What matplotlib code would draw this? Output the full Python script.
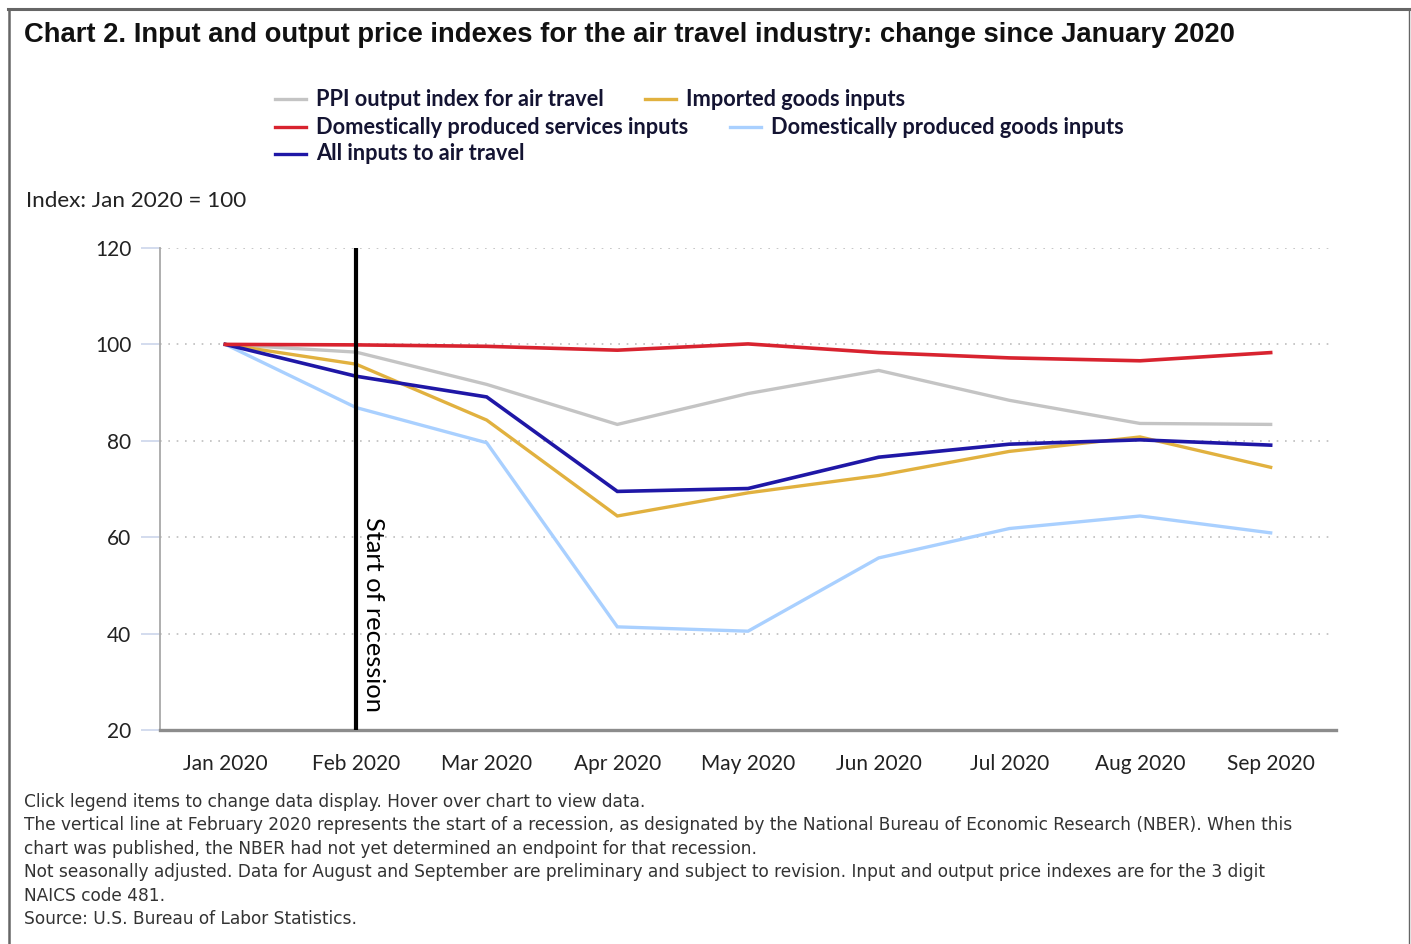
import matplotlib
matplotlib.use('Agg')
import matplotlib.pyplot as plt
from matplotlib.lines import Line2D
import numpy as np

months = ['Jan 2020', 'Feb 2020', 'Mar 2020', 'Apr 2020', 'May 2020',
          'Jun 2020', 'Jul 2020', 'Aug 2020', 'Sep 2020']

ppi_output = [100, 98.4, 91.7, 83.4, 89.8, 94.6, 88.4, 83.6, 83.4]
imported_goods = [100, 95.9, 84.3, 64.4, 69.2, 72.8, 77.8, 80.8, 74.5]
dom_services = [100, 99.9, 99.6, 98.8, 100.1, 98.3, 97.2, 96.6, 98.3]
dom_goods = [100, 86.9, 79.6, 41.4, 40.5, 55.7, 61.8, 64.4, 60.9]
all_inputs = [100, 93.4, 89.1, 69.5, 70.1, 76.6, 79.3, 80.2, 79.1]

series = [
    ('PPI output index for air travel', ppi_output, '#c4c4c4'),
    ('Imported goods inputs', imported_goods, '#e1b13f'),
    ('Domestically produced services inputs', dom_services, '#d8232f'),
    ('Domestically produced goods inputs', dom_goods, '#a9d0ff'),
    ('All inputs to air travel', all_inputs, '#1f17a6'),
]
# draw order: light ones first
draw_order = [3, 0, 1, 4, 2]

yticks = [20, 40, 60, 80, 100, 120]

W, H = 1411, 944
fig = plt.figure(figsize=(W / 100, H / 100), dpi=100)
ui = ['Lato', 'DejaVu Sans']

# outer frame
fig.add_artist(Line2D([8 / W, 1409 / W], [1 - 9 / H, 1 - 9 / H], color='#666666', lw=2.2))
fig.add_artist(Line2D([9 / W, 9 / W], [0, 1 - 9 / H], color='#666666', lw=1.8))
fig.add_artist(Line2D([1409 / W, 1409 / W], [0, 1 - 9 / H], color='#666666', lw=1.0))

fig.text(24 / W, 1 - 35 / H, 'Chart 2. Input and output price indexes for the air travel industry: change since January 2020',
         family='Liberation Sans', weight='bold', fontsize=19.75, color='#111111', va='center', ha='left')

ax = fig.add_axes([160 / W, 1 - 730 / H, (1336 - 160) / W, (730 - 248) / H])
x = np.arange(len(months))
for i in draw_order:
    name, vals, col = series[i]
    ax.plot(x, vals, color=col, lw=2.6 if i in (2, 4) else 2.4, solid_joinstyle='miter', zorder=3)

ax.axvline(1, color='black', lw=3, zorder=4)
ax.text(1.045, 23.8, 'Start of recession', rotation=270, ha='left', va='bottom',
        family=ui, fontsize=18.3, color='black', zorder=5)

ax.set_xlim(-0.5, 8.5)
ax.set_ylim(20, 120)
ax.set_xticks(x)
ax.set_xticklabels(months, family=ui, fontsize=15, color='#222222')
ax.set_yticks(yticks)
ax.set_yticklabels([str(v) for v in yticks], family=ui, fontsize=15, color='#222222')
for lbl in ax.get_yticklabels():
    lbl.set_va('center_baseline')
ax.tick_params(axis='x', length=0, pad=17)
ax.tick_params(axis='y', length=13.7, color='#ccd6eb', width=1.2, pad=7)
for v in yticks[1:]:
    ax.axhline(v, xmin=0, xmax=0.995, color='#bdbdbd', lw=1.2, ls=(0, (1, 4)), zorder=1)
for s in ['top', 'right']:
    ax.spines[s].set_visible(False)
ax.spines['left'].set_color('#a8a8a8')
ax.spines['left'].set_linewidth(1.3)
ax.spines['bottom'].set_color('#8c8c8c')
ax.spines['bottom'].set_linewidth(2.4)

# legend (flow layout)
legend_rows = [
    [(0, 275, 99), (1, 645, 99)],
    [(2, 275, 127), (3, 730, 127)],
    [(4, 275, 154)],
]
for row in legend_rows:
    for i, lx, ly in row:
        name, vals, col = series[i]
        fig.add_artist(Line2D([lx / W, (lx + 31) / W], [1 - ly / H, 1 - ly / H], color=col, lw=2.4))
        fig.text((lx + 41) / W, 1 - ly / H, name, family=ui, weight='bold', fontsize=15.7,
                 color='#141432', va='center', ha='left')

fig.text(26 / W, 1 - 201 / H, 'Index: Jan 2020 = 100', family=ui, fontsize=16.2, color='#222222', va='center')

notes = [
    'Click legend items to change data display. Hover over chart to view data.',
    'The vertical line at February 2020 represents the start of a recession, as designated by the National Bureau of Economic Research (NBER). When this',
    'chart was published, the NBER had not yet determined an endpoint for that recession.',
    'Not seasonally adjusted. Data for August and September are preliminary and subject to revision. Input and output price indexes are for the 3 digit',
    'NAICS code 481.',
    'Source: U.S. Bureau of Labor Statistics.',
]
for k, line in enumerate(notes):
    fig.text(24 / W, 1 - (802 + k * 23.4) / H, line, family='DejaVu Sans', fontsize=12.22,
             color='#333333', va='center', ha='left')

fig.savefig('out.png', dpi=100)
